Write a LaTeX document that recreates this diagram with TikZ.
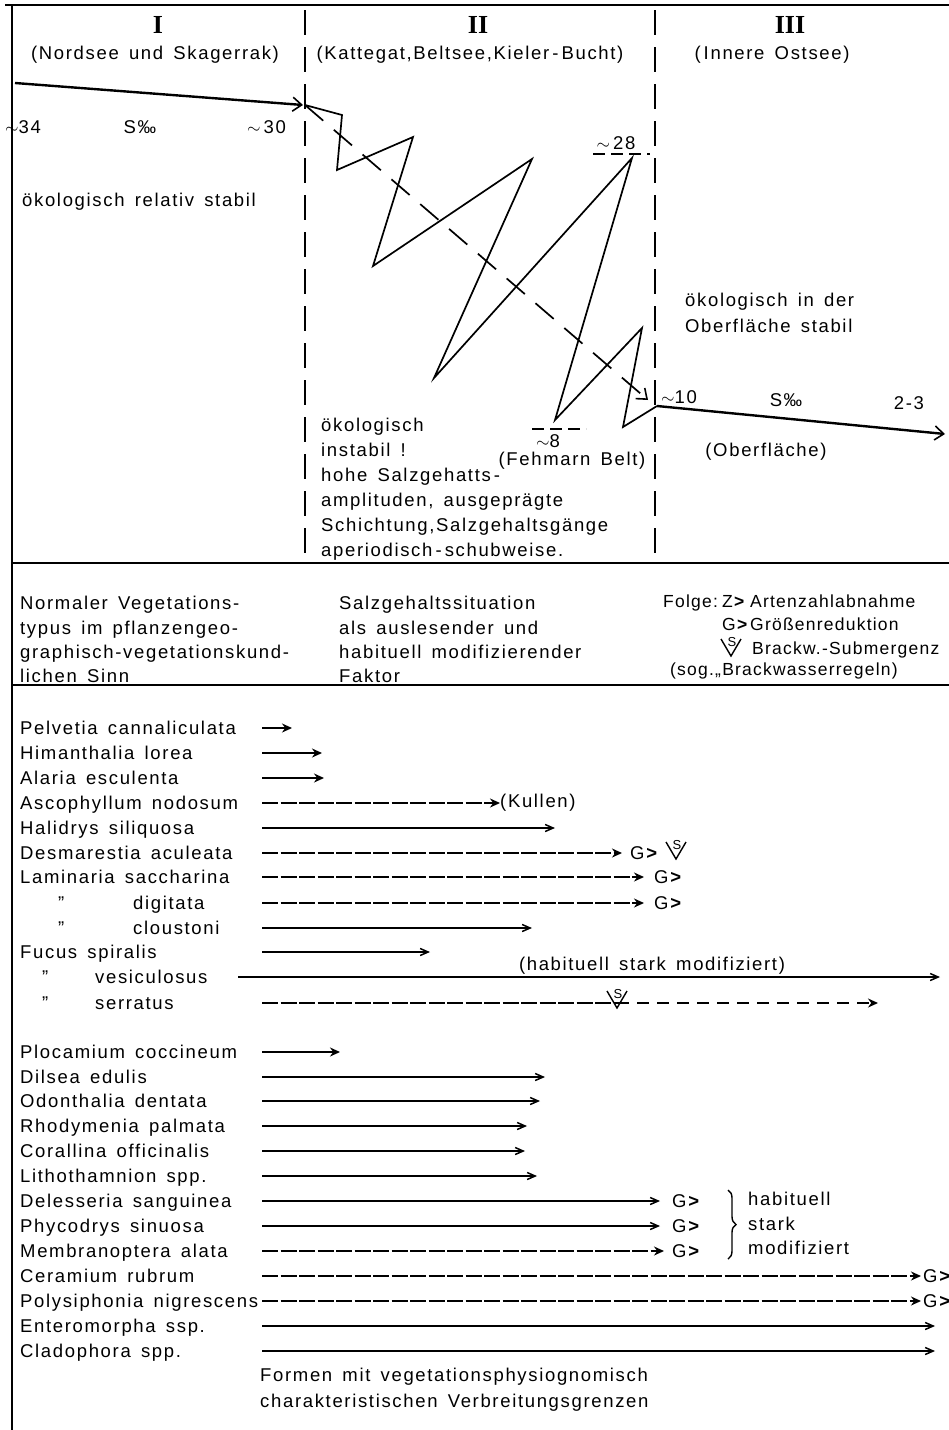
\documentclass[tikz,border=0pt]{standalone}
\usepackage{fontspec}
\setmainfont{Liberation Sans}[LetterSpace=9, WordSpace=1.5]
\newfontfamily\romfont{Liberation Serif}
\newfontfamily\legfont{Liberation Sans}[LetterSpace=7, WordSpace=1.3]
\usetikzlibrary{arrows.meta, decorations.pathreplacing, positioning}

\newcommand{\chev}{\textbf{>}}

\begin{document}
\begin{tikzpicture}[
                    x=1pt, y=-1pt,
                    every node/.style={
                        inner sep=0pt,
                        font=\fontsize{18.5}{22}\selectfont,
                        text height=17pt, text depth=4pt
                        },
                    txt/.style={anchor=west},
                    legend/.style={anchor=west, font=\legfont\fontsize{17.5}{20}\selectfont},
                    roman/.style={font=\romfont\bfseries\fontsize{26}{26}\selectfont},
                    frame/.style={line width=2.2pt},
                    divider/.style={line width=1.8pt, dash pattern=on 25pt off 12pt},
                    salinity/.style={line width=2.4pt, -{Straight Barb[length=9pt, width=14pt, line width=1.6pt]}},
                    zigzag/.style={line width=1.7pt, line join=miter},
                    trend/.style={line width=1.7pt, dash pattern=on 24pt off 14pt,
                        -{Straight Barb[length=9pt, width=14pt, line width=1.6pt]}},
                    tildeline/.style={line width=1.2pt, dash pattern=on 12pt off 6pt},
                    bold/.style={line width=1.5pt, -{Stealth[length=10pt, width=9pt]}},
                    plain/.style={line width=1.5pt, -{Straight Barb[length=8pt, width=7pt]}},
                    dashy/.style={line width=1.5pt, dash pattern=on 16pt off 2.5pt, -{Stealth[length=10pt, width=9pt]}},
                    subm/.pic={
                        \draw[line width=1.4pt] (-10,-9) -- (0,8) -- (10,-9);
                        \node[font=\fontsize{13}{13}\selectfont, text height=9pt, text depth=0pt] (-s) at (1,-6) {S};
                        }
                    ]
                \useasboundingbox (0,0) rectangle (949,1430);
                % frame and sections
                \draw[frame] (5,5) -- (949,5);
                \draw[frame] (12,5) -- (12,1430);
                \draw[line width=1.8pt] (12,563) -- (949,563);
                \draw[line width=2.8pt] (12,685) -- (949,685);
                \draw[divider] (305,10) -- (305,560);
                \draw[divider] (655,10) -- (655,560);

                % headings
                \node[roman] (numI) at (158,27) {I};
                \node[roman] (numII) at (478,27) {II};
                \node[roman] (numIII) at (790,27) {III};
                \node (subI) at (155,53) {(Nordsee und Skagerrak)};
                \node (subII) at (470,53) {(Kattegat,Beltsee,Kieler\,-\,Bucht)};
                \node (subIII) at (772,53) {(\,Innere Ostsee)};

                % salinity, region I
                \coordinate (salIa) at (15,83);
                \coordinate (salIb) at (303,105);
                \draw[salinity] (salIa) -- (salIb);
                \node[txt] (s34) at (5,127) {$\sim$34};
                \node (permI) at (140,127) {S‰};
                \node[txt] (s30) at (247,127) {$\sim$\,30};
                \node[txt] (stabI) at (22,200) {ökologisch relativ stabil};

                % zigzag, region II
                \coordinate (z0) at (305,105);
                \coordinate (z1) at (342,115);
                \coordinate (z2) at (337,170);
                \coordinate (z3) at (413,137);
                \coordinate (z4) at (373,266);
                \coordinate (z5) at (532,159);
                \coordinate (z6) at (434,378);
                \coordinate (z7) at (632,158);
                \coordinate (z8) at (555,420);
                \coordinate (z9) at (642,328);
                \coordinate (z10) at (623,427);
                \coordinate (z11) at (657,406);
                \draw[zigzag] (z0) -- (z1) -- (z2) -- (z3) -- (z4) -- (z5) -- (z6)
                    -- (z7) -- (z8) -- (z9) -- (z10) -- (z11);
                \coordinate (trendend) at (648,400);
                \draw[trend] (z0) -- (trendend);

                \node (s28) at (616,143) {$\sim$\,28};
                \coordinate (s28a) at (593,154);
                \coordinate (s28b) at (650,154);
                \draw[tildeline] (s28a) -- (s28b);
                \node (s8) at (548,441) {$\sim$8};
                \coordinate (s8a) at (532,429);
                \coordinate (s8b) at (586,429);
                \draw[tildeline] (s8a) -- (s8b);
                \node (fehm) at (572,459) {(Fehmarn Belt)};

                \node[txt] (instI) at (321,425) {ökologisch};
                \node[txt] (instII) at (321,450) {instabil !};
                \node[txt] (instIII) at (321,475) {hohe Salzgehatts\,-};
                \node[txt] (instIV) at (321,500) {amplituden, ausgeprägte};
                \node[txt] (instV) at (321,525) {Schichtung,Salzgehaltsgänge};
                \node[txt] (instVI) at (321,550) {aperiodisch\,-\,schubweise.};

                % salinity, region III
                \coordinate (salIIIb) at (945,434);
                \draw[salinity] (z11) -- (salIIIb);
                \node[txt] (s10) at (661,397) {$\sim$10};
                \node (permIII) at (786,400) {S‰};
                \node (s23) at (909,403) {2-3};
                \node (oberfl) at (766,450) {(Oberfläche)};
                \node[txt] (stabIIIa) at (685,300) {ökologisch in der};
                \node[txt] (stabIIIb) at (685,326) {Oberfläche stabil};

                % middle band
                \node[txt] (normI) at (20,603) {Normaler Vegetations-};
                \node[txt] (normII) at (20,628) {typus im pflanzengeo-};
                \node[txt] (normIII) at (20,652) {graphisch-vegetationskund-};
                \node[txt] (normIV) at (20,676) {lichen Sinn};
                \node[txt] (salzI) at (339,603) {Salzgehaltssituation};
                \node[txt] (salzII) at (339,628) {als auslesender und};
                \node[txt] (salzIII) at (339,652) {habituell modifizierender};
                \node[txt] (salzIV) at (339,676) {Faktor};
                \node[legend] (folge) at (663,601) {Folge:};
                \node[legend] (folgeZs) at (722,601) {Z\chev};
                \node[legend] (folgeZ) at (750,601) {Artenzahlabnahme};
                \node[legend] (folgeGs) at (722,624) {G\chev};
                \node[legend] (folgeG) at (750,624) {Größenreduktion};
                \pic (folgeS) at (731,648) {subm};
                \node[legend] (folgeSt) at (752,648) {Brackw.-Submergenz};
                \node[legend] (folgeR) at (670,669) {(sog.„Brackwasserregeln)};

                % species
                \node[txt] (pelv) at (20,728) {Pelvetia cannaliculata};
                \node[txt] (hima) at (20,753) {Himanthalia lorea};
                \node[txt] (alar) at (20,778) {Alaria esculenta};
                \node[txt] (asco) at (20,803) {Ascophyllum nodosum};
                \node[txt] (hali) at (20,828) {Halidrys siliquosa};
                \node[txt] (desm) at (20,853) {Desmarestia aculeata};
                \node[txt] (lams) at (20,877) {Laminaria saccharina};
                \node[txt] (lamdq) at (58,903) {''};
                \node[txt] (lamd) at (133,903) {digitata};
                \node[txt] (lamcq) at (58,928) {''};
                \node[txt] (lamc) at (133,928) {cloustoni};
                \node[txt] (fspi) at (20,952) {Fucus spiralis};
                \node[txt] (fvesq) at (42,977) {''};
                \node[txt] (fves) at (95,977) {vesiculosus};
                \node[txt] (fserq) at (42,1003) {''};
                \node[txt] (fser) at (95,1003) {serratus};
                \node[txt] (ploc) at (20,1052) {Plocamium coccineum};
                \node[txt] (dils) at (20,1077) {Dilsea edulis};
                \node[txt] (odon) at (20,1101) {Odonthalia dentata};
                \node[txt] (rhod) at (20,1126) {Rhodymenia palmata};
                \node[txt] (cora) at (20,1151) {Corallina officinalis};
                \node[txt] (lith) at (20,1176) {Lithothamnion spp.};
                \node[txt] (dele) at (20,1201) {Delesseria sanguinea};
                \node[txt] (phyc) at (20,1226) {Phycodrys sinuosa};
                \node[txt] (memb) at (20,1251) {Membranoptera alata};
                \node[txt] (cera) at (20,1276) {Ceramium rubrum};
                \node[txt] (poly) at (20,1301) {Polysiphonia nigrescens};
                \node[txt] (ente) at (20,1326) {Enteromorpha ssp.};
                \node[txt] (clad) at (20,1351) {Cladophora spp.};

                % spreading limits
                \foreach \n/\y/\xa/\xb/\s in {
                        pelv/728/262/292/bold, hima/753/262/322/bold, alar/778/262/324/bold,
                        asco/803/262/500/dashy, hali/828/262/555/plain, desm/853/262/622/dashy,
                        lams/877/262/644/dashy, lamd/903/262/644/dashy, lamc/928/262/532/plain,
                        fspi/952/262/430/plain, fves/977/238/940/plain,
                        ploc/1052/262/340/bold, dils/1077/262/545/plain, odon/1101/262/540/plain,
                        rhod/1126/262/527/plain, cora/1151/262/525/plain, lith/1176/262/537/plain,
                        dele/1201/262/660/plain, phyc/1226/262/660/plain, memb/1251/262/664/dashy,
                        cera/1276/262/921/dashy, poly/1301/262/921/dashy,
                        ente/1326/262/935/plain, clad/1351/262/935/plain}{
                    \coordinate (\n-a) at (\xa,\y);
                    \coordinate (\n-b) at (\xb,\y);
                    \draw[\s] (\n-a) -- (\n-b);
                }
                % serratus, broken by the submergence mark
                \coordinate (fser-a) at (262,1003);
                \coordinate (fser-m) at (617,1003);
                \coordinate (fser-b) at (878,1003);
                \draw[line width=1.5pt, dash pattern=on 16pt off 2.5pt] (fser-a) -- (fser-m);
                \draw[line width=1.5pt, dash pattern=on 12pt off 8pt, -{Stealth[length=10pt, width=9pt]}] (fser-m) -- (fser-b);
                \pic (fserS) at (617,1000) {subm};

                \node[txt] (kullen) at (500,801) {(Kullen)};
                \node[anchor=south] (habmod) at (652,975) {(habituell stark modifiziert)};
                \node[txt] (desmG) at (630,853) {G\chev};
                \pic (desmS) at (676,851) {subm};
                \node[txt] (lamsG) at (654,877) {G\chev};
                \node[txt] (lamdG) at (654,903) {G\chev};
                \node[txt] (deleG) at (672,1201) {G\chev};
                \node[txt] (phycG) at (672,1226) {G\chev};
                \node[txt] (membG) at (672,1251) {G\chev};
                \node[txt] (ceraG) at (923,1276) {G\chev};
                \node[txt] (polyG) at (923,1301) {G\chev};

                \coordinate (bracea) at (728,1190);
                \coordinate (braceb) at (728,1259);
                \draw[line width=1.4pt, decorate, decoration={brace, amplitude=8pt}] (bracea) -- (braceb);
                \node[txt] (habI) at (748,1199) {habituell};
                \node[txt] (habII) at (748,1224) {stark};
                \node[txt] (habIII) at (748,1248) {modifiziert};

                \node[txt] (formI) at (260,1375) {Formen mit vegetationsphysiognomisch};
                \node[txt] (formII) at (260,1401) {charakteristischen Verbreitungsgrenzen};
            \end{tikzpicture}
\end{document}
